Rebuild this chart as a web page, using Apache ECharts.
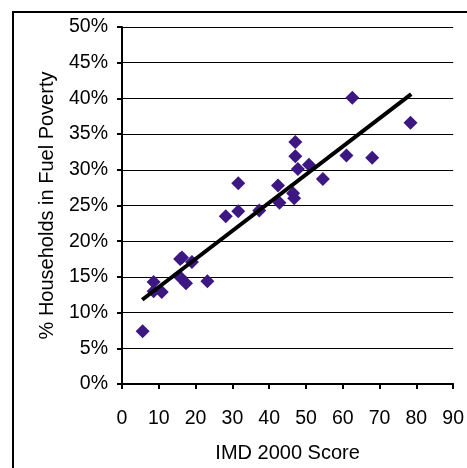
<!DOCTYPE html>
<html>
<head>
<meta charset="utf-8">
<script src="https://cdn.jsdelivr.net/npm/echarts@6/dist/echarts.min.js"></script>
<style>
  html, body { margin: 0; padding: 0; background: #fff; }
  #chart { width: 467px; height: 468px; }
</style>
</head>
<body>
<div id="chart"></div>
<script>
// IMD 2000 score of each area
const imdScore = [5.6, 8.6, 8.6, 10.8, 15.8, 16.3, 19.0, 15.9, 17.4, 23.2,
  28.2, 31.6, 31.6, 37.3, 42.4, 42.8, 46.5, 46.8, 47.1, 47.1,
  47.8, 50.8, 54.6, 61.0, 62.6, 68.0, 78.4];
// share of households in fuel poverty (%)
const fuelPoverty = [7.4, 14.3, 13.0, 12.9, 17.5, 17.7, 17.1, 14.9, 14.1, 14.4,
  23.5, 28.1, 24.2, 24.3, 27.8, 25.4, 26.7, 26.0, 33.9, 31.9,
  30.1, 30.7, 28.7, 32.0, 40.1, 31.7, 36.6];
// linear trend line end points
const trendX = [5.5, 78.6];
const trendY = [11.8, 40.6];
// axis ticks
const xTicks = [0, 10, 20, 30, 40, 50, 60, 70, 80, 90];
const yTicks = [0, 5, 10, 15, 20, 25, 30, 35, 40, 45, 50];

const font = 'Liberation Sans, Arial, sans-serif';
const chart = echarts.init(document.getElementById('chart'), null, { renderer: 'canvas' });

chart.setOption({
  animation: false,
  backgroundColor: '#fff',
  graphic: [{
    type: 'rect',
    shape: { x: 13, y: 12, width: 520, height: 520 },
    style: { fill: 'none', stroke: '#000', lineWidth: 2 },
    silent: true
  }],
  grid: { left: 122, top: 27, right: 10, bottom: 83, containLabel: false },
  xAxis: {
    type: 'value',
    min: xTicks[0],
    max: xTicks[xTicks.length - 1],
    interval: xTicks[1] - xTicks[0],
    name: 'IMD 2000 Score',
    nameLocation: 'middle',
    nameGap: 59,
    nameTextStyle: { color: '#000', fontSize: 20, fontFamily: font },
    axisLine: { lineStyle: { color: '#000', width: 2 } },
    axisTick: { show: true, length: 5, lineStyle: { color: '#000', width: 2 } },
    axisLabel: { color: '#000', fontSize: 19.5, fontFamily: font, margin: 25 },
    splitLine: { show: false }
  },
  yAxis: {
    type: 'value',
    min: yTicks[0],
    max: yTicks[yTicks.length - 1],
    interval: yTicks[1] - yTicks[0],
    name: '% Households in Fuel Poverty',
    nameLocation: 'middle',
    nameGap: 65,
    nameTextStyle: { color: '#000', fontSize: 20, fontFamily: font },
    axisLine: { lineStyle: { color: '#000', width: 2 } },
    axisTick: { show: true, length: 5, lineStyle: { color: '#000', width: 2 } },
    axisLabel: { color: '#000', fontSize: 19.5, fontFamily: font, margin: 14, formatter: '{value}%' },
    splitLine: { show: true, lineStyle: { color: '#000', width: 1.2 } }
  },
  series: [
    {
      type: 'scatter',
      data: imdScore.map((x, i) => [x, fuelPoverty[i]]),
      symbol: 'diamond',
      symbolSize: 14,
      itemStyle: { color: '#3d1782', opacity: 1 },
      z: 2
    },
    {
      type: 'line',
      data: trendX.map((x, i) => [x, trendY[i]]),
      symbol: 'none',
      lineStyle: { color: '#000', width: 4 },
      z: 3
    }
  ]
});
</script>
</body>
</html>
